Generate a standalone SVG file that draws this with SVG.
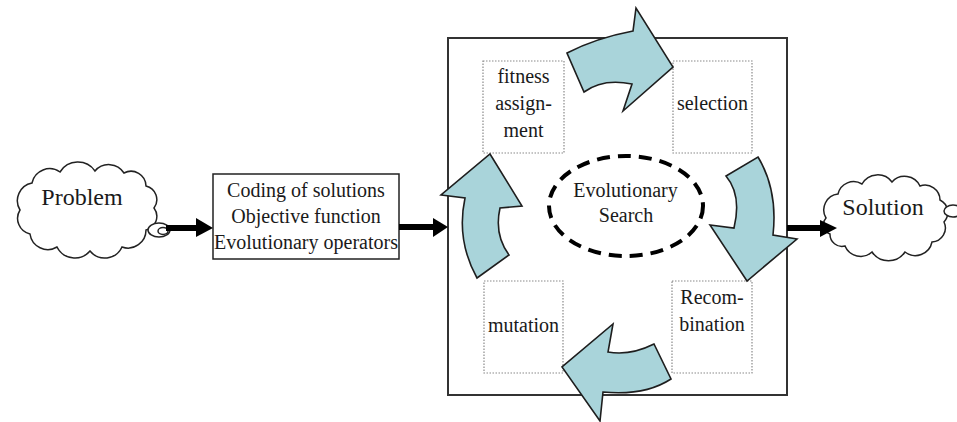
<svg xmlns="http://www.w3.org/2000/svg" width="957" height="422" viewBox="0 0 957 422">
<style>
text{font-family:'Liberation Serif','DejaVu Serif',serif;fill:#1a1a1a;text-anchor:middle}
.t20{font-size:20px}
.t24{font-size:24px}
.cloud{fill:#fff;stroke:#222;stroke-width:1.5}
.dot{fill:none;stroke:#8a8a8a;stroke-width:1.2;stroke-dasharray:1.5 1.5}
.blk{fill:#a9d4da;stroke:#1e1e1e;stroke-width:1.6;stroke-linejoin:miter}
.shaft{stroke:#000;stroke-width:6}
</style>
<rect width="957" height="422" fill="#fff"/>
<g id="problem">
<path class="cloud" d="M20,210 A18,18 0 0 1 32,183 A18,18 0 0 1 60,172 A21,21 0 0 1 95,171 A18,18 0 0 1 124,173 A15,15 0 0 1 146,186 A14,14 0 0 1 154,208 A14,14 0 0 1 146,230 A18,18 0 0 1 122,247 A19,19 0 0 1 90,251 A20,20 0 0 1 57,247 A18,18 0 0 1 30,234 A16,16 0 0 1 20,210 Z"/>
<ellipse class="cloud" cx="159" cy="230" rx="11" ry="7"/>
<ellipse class="cloud" cx="163" cy="231" rx="5" ry="3.5"/>
<text class="t24" x="82" y="205" font-family="Liberation Serif, serif">Problem</text>
</g>
<g id="coding">
<rect x="213" y="174" width="186" height="85" fill="#fff" stroke="#222" stroke-width="1.5"/>
<text class="t20" x="306" y="197" font-family="Liberation Serif, serif">Coding of solutions</text>
<text class="t20" x="306" y="223" font-family="Liberation Serif, serif">Objective function</text>
<text class="t20" x="306" y="249" font-family="Liberation Serif, serif">Evolutionary operators</text>
</g>
<g id="evolutionary-box">
<rect x="448" y="38" width="339" height="357" fill="#fff" stroke="#333" stroke-width="2"/>
</g>
<g id="fitness">
<rect class="dot" x="483" y="61" width="81" height="92"/>
<text class="t20" x="523.5" y="83" font-family="Liberation Serif, serif">fitness</text>
<text class="t20" x="523.5" y="110" font-family="Liberation Serif, serif">assign-</text>
<text class="t20" x="523.5" y="137" font-family="Liberation Serif, serif">ment</text>
</g>
<g id="selection">
<rect class="dot" x="673" y="61" width="79" height="92"/>
<text class="t20" x="712.5" y="110" font-family="Liberation Serif, serif">selection</text>
</g>
<g id="mutation">
<rect class="dot" x="484" y="281" width="79" height="92"/>
<text class="t20" x="523.5" y="332" font-family="Liberation Serif, serif">mutation</text>
</g>
<g id="recombination">
<rect class="dot" x="672" y="281" width="80" height="92"/>
<text class="t20" x="712" y="304" font-family="Liberation Serif, serif">Recom-</text>
<text class="t20" x="712" y="331" font-family="Liberation Serif, serif">bination</text>
</g>
<g id="search">
<ellipse cx="626" cy="206" rx="77" ry="50" fill="none" stroke="#000" stroke-width="4" stroke-dasharray="13 8"/>
<text class="t20" x="625.5" y="197" font-family="Liberation Serif, serif">Evolutionary</text>
<text class="t20" x="626" y="222" font-family="Liberation Serif, serif">Search</text>
</g>
<g id="solution">
<path class="cloud" d="M826,218 A16,16 0 0 1 838,194 A16,16 0 0 1 862,184 A18,18 0 0 1 892,182 A17,17 0 0 1 920,186 A15,15 0 0 1 940,200 A14,14 0 0 1 944,222 A14,14 0 0 1 932,242 A17,17 0 0 1 905,252 A20,20 0 0 1 872,252 A17,17 0 0 1 845,246 A12,12 0 0 1 830,234 A10,10 0 0 1 826,218 Z"/>
<ellipse class="cloud" cx="953" cy="211" rx="9" ry="6"/>
<text class="t24" x="883" y="215" font-family="Liberation Serif, serif">Solution</text>
</g>
<g id="connectors">
<line class="shaft" x1="166" y1="228" x2="198" y2="228"/>
<polygon points="196,218 213,228 196,237" fill="#000"/>
<line class="shaft" x1="399" y1="227" x2="435" y2="227"/>
<polygon points="433,218 448,227 433,237" fill="#000"/>
<line class="shaft" x1="787" y1="228" x2="822" y2="228"/>
<polygon points="820,220 837,228 820,237" fill="#000"/>
<path class="blk" d="M567,53 Q596,38 633,31 L636,8 L673,67 L623,111 L632,84 Q603,78 584,92 Z"/>
<path class="blk" d="M758,157 Q778,190 773,235 L797,239 L747,281 L710,225 L734,228 Q742,195 726,176 Z"/>
<path class="blk" d="M654,344 Q630,356 608,352 L613,324 L562,367 L600,421 L603,392 Q645,396 671,379 Z"/>
<path class="blk" d="M490,154 L522,206 L500,208 Q494,235 509,255 L477,278 Q456,240 465,198 L441,195 Z"/>
</g>
</svg>
